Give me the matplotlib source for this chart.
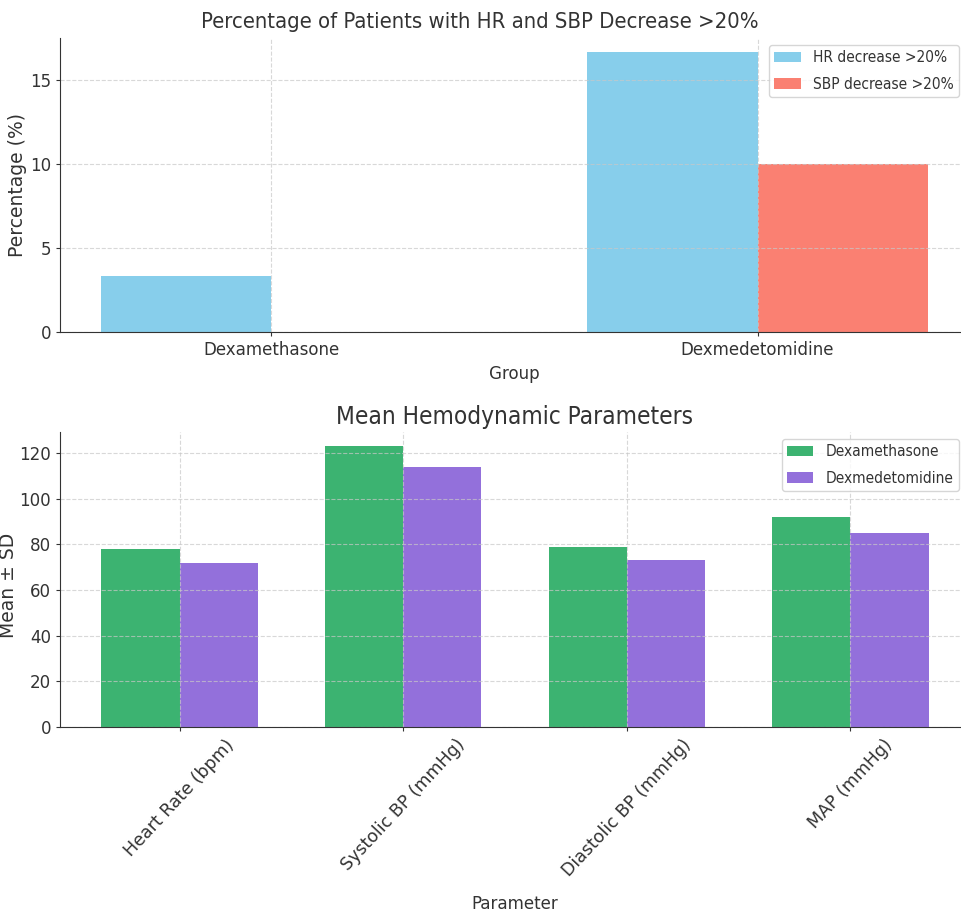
import matplotlib
matplotlib.use("Agg")
import matplotlib.pyplot as plt
from matplotlib.ticker import MultipleLocator
import numpy as np

groups = ["Dexamethasone", "Dexmedetomidine"]
hr_decrease = [3.33, 16.67]
sbp_decrease = [0.0, 10.0]

parameters = ["Heart Rate (bpm)", "Systolic BP (mmHg)", "Diastolic BP (mmHg)", "MAP (mmHg)"]
dexa_means = [78, 123, 79, 92]
dexmed_means = [72, 114, 73, 85]

plt.rcParams['font.family'] = ['DejaVu Sans']
plt.rcParams['font.stretch'] = 'condensed'
plt.rcParams['axes.edgecolor'] = '#333333'
plt.rcParams['xtick.color'] = '#333333'
plt.rcParams['ytick.color'] = '#333333'
plt.rcParams['text.color'] = '#333333'
plt.rcParams['axes.labelcolor'] = '#333333'

fig = plt.figure(figsize=(9.61, 9.18), dpi=100)
ax1 = fig.add_axes([60/961, 1-332/918, 909/961, (332-38)/918])
ax2 = fig.add_axes([60/961, 1-727/918, 910/961, (727-432)/918])

w = 0.35
x = np.arange(len(groups))
ax1.bar(x - w/2, hr_decrease, w, color='skyblue', label='HR decrease >20%')
ax1.bar(x + w/2, sbp_decrease, w, color='salmon', label='SBP decrease >20%')
ax1.set_xticks(x)
ax1.set_xticklabels(groups)
ax1.yaxis.set_major_locator(MultipleLocator(5))
ax1.set_title('Percentage of Patients with HR and SBP Decrease >20%', fontsize=15.85, pad=7,
              x=(480-60)/909)
ax1.set_xlabel('Group', fontsize=13.3)
ax1.set_ylabel('Percentage (%)', fontsize=13.5, fontstretch='normal')
ax1.yaxis.set_label_coords(-33/909, 0.5)
ax1.legend(loc='upper right', fontsize=11.1, edgecolor='#cccccc', labelspacing=0.75,
           handlelength=1.7, borderpad=0.35,
           bbox_to_anchor=(959/961, 1-45/918), bbox_transform=fig.transFigure, borderaxespad=0)

x2 = np.arange(len(parameters))
ax2.bar(x2 - w/2, dexa_means, w, color='mediumseagreen', label='Dexamethasone')
ax2.bar(x2 + w/2, dexmed_means, w, color='mediumpurple', label='Dexmedetomidine')
ax2.set_xticks(x2)
ax2.set_xticklabels(parameters, rotation=47, fontsize=12.5, fontstretch='normal')
ax2.set_title('Mean Hemodynamic Parameters', fontsize=17.5, pad=6)
ax2.set_xlabel('Parameter', fontsize=13.3)
ax2.xaxis.set_label_coords(0.5, (727-895)/295)
ax2.set_ylabel('Mean ± SD', fontsize=13.5, fontstretch='normal')
ax2.yaxis.set_label_coords(-42/910, 0.48)
ax2.legend(loc='upper right', fontsize=11.1, edgecolor='#cccccc', labelspacing=0.75,
           handlelength=1.7, borderpad=0.35,
           bbox_to_anchor=(959/961, 1-439/918), bbox_transform=fig.transFigure, borderaxespad=0)

for ax in (ax1, ax2):
    ax.spines['top'].set_visible(False)
    ax.spines['right'].set_visible(False)
    ax.grid(True, linestyle='--', color='#c8c8c8', alpha=0.7, linewidth=0.8)
    ax.tick_params(axis='y', labelsize=13.3, length=3)
    ax.tick_params(axis='x', length=3)
ax1.tick_params(axis='x', labelsize=13.3)

fig.savefig('out.png', dpi=100)
